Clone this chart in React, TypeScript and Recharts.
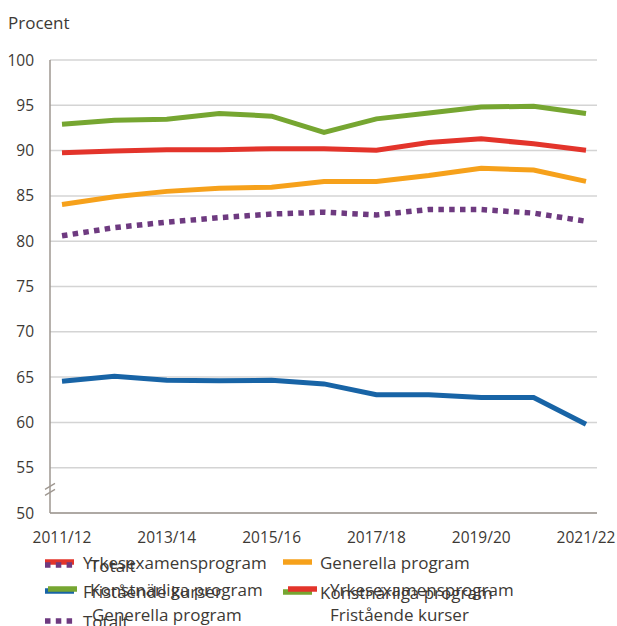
import React from 'react';
import { LineChart, Line, XAxis, YAxis, CartesianGrid, ReferenceLine } from 'recharts';

const years = ['2011/12', '2012/13', '2013/14', '2014/15', '2015/16', '2016/17', '2017/18', '2018/19', '2019/20', '2020/21', '2021/22'];
const konstnarliga = [92.9, 93.35, 93.45, 94.1, 93.8, 92.0, 93.5, 94.15, 94.8, 94.9, 94.1];
const yrkesexamen = [89.75, 89.95, 90.1, 90.1, 90.2, 90.2, 90.05, 90.9, 91.3, 90.75, 90.05];
const generella = [84.05, 84.9, 85.5, 85.85, 85.95, 86.6, 86.6, 87.25, 88.05, 87.85, 86.6];
const totalt = [80.6, 81.5, 82.1, 82.6, 83.0, 83.2, 82.9, 83.5, 83.5, 83.1, 82.2];
const fristaende = [64.55, 65.1, 64.65, 64.6, 64.65, 64.25, 63.05, 63.05, 62.75, 62.75, 59.8];
const yTicks = [50, 55, 60, 65, 70, 75, 80, 85, 90, 95, 100];

const series = [
  { key: 'konstnarliga', name: 'Konstnärliga program', color: '#76a631', values: konstnarliga, dash: undefined as string | undefined },
  { key: 'yrkesexamen', name: 'Yrkesexamensprogram', color: '#e3342b', values: yrkesexamen, dash: undefined },
  { key: 'generella', name: 'Generella program', color: '#f6a11b', values: generella, dash: undefined },
  { key: 'totalt', name: 'Totalt', color: '#6e3a80', values: totalt, dash: '5.5 5.3' },
  { key: 'fristaende', name: 'Fristående kurser', color: '#1864a6', values: fristaende, dash: undefined },
];

const data = years.map((year, i) => {
  const row: Record<string, string | number> = { year };
  series.forEach((s) => { row[s.key] = s.values[i]; });
  return row;
});

const TEXT = '#3d3935';
const AXIS = '#9e9790';
const FONT = '"Open Sans", sans-serif';

// overlapping legend layers as seen in the original
const legendA = [
  { key: 'yrkesexamen', sx: 45, tx: 83, y: 562, swatch: true },
  { key: 'generella', sx: 283, tx: 320, y: 562, swatch: true },
  { key: 'fristaende', sx: 45, tx: 83, y: 591, swatch: true },
  { key: 'konstnarliga', sx: 283, tx: 320, y: 592, swatch: true },
  { key: 'totalt', sx: 45, tx: 83, y: 621, swatch: true },
];
const legendB = [
  { key: 'totalt', sx: 45, tx: 90, y: 565, swatch: true },
  { key: 'konstnarliga', sx: 48, tx: 90, y: 589, swatch: true },
  { key: 'yrkesexamen', sx: 288, tx: 330, y: 589, swatch: true },
  { key: 'generella', sx: 48, tx: 92, y: 614, swatch: false },
  { key: 'fristaende', sx: 288, tx: 330, y: 614, swatch: false },
];

const BreakMark = (props: any) => {
  const x = props.x1 ?? 50;
  const y = props.y1 ?? 490;
  return (
    <g stroke={AXIS} strokeWidth={1.3}>
      <line x1={x - 5} y1={y - 1} x2={x + 5} y2={y - 7} />
      <line x1={x - 5} y1={y + 5} x2={x + 5} y2={y - 1} />
    </g>
  );
};

const LegendLayer = ({ items }: { items: typeof legendA }) => (
  <>
    {items.map((it, i) => {
      const s = series.find((q) => q.key === it.key)!;
      return (
        <g key={i}>
          {it.swatch && (
            <line x1={it.sx} x2={it.sx + 29} y1={it.y} y2={it.y} stroke={s.color} strokeWidth={5.5} strokeDasharray={s.dash} />
          )}
          <text x={it.tx} y={it.y} dominantBaseline="central" fill={TEXT} fontSize={17} fontFamily={FONT}>{s.name}</text>
        </g>
      );
    })}
  </>
);

export default function App() {
  return (
    <div style={{ position: 'absolute', left: 0, top: 0, width: 617, height: 626, background: '#fff', fontFamily: FONT, overflow: 'hidden' }}>
      <LineChart width={617} height={626} data={data} margin={{ top: 60, right: 20, bottom: 83, left: 8 }}>
        <CartesianGrid vertical={false} stroke="#d4d4d4" strokeWidth={1.5} />
        <XAxis
          dataKey="year"
          interval={1}
          tickLine={false}
          axisLine={{ stroke: AXIS, strokeWidth: 1.5 }}
          tick={{ fill: TEXT, fontSize: 15.5, fontFamily: FONT }}
          tickMargin={13}
          height={30}
          padding={{ left: 12, right: 11 }}
        />
        <YAxis
          domain={[50, 100]}
          ticks={yTicks}
          interval={0}
          width={42}
          tickLine={false}
          axisLine={{ stroke: AXIS, strokeWidth: 1.5 }}
          tick={{ fill: TEXT, fontSize: 15.5, fontFamily: FONT }}
          tickMargin={10}
        />
        <ReferenceLine y={52.5} stroke="none" ifOverflow="visible" shape={BreakMark} />
        {series.map((s) => (
          <Line
            key={s.key}
            type="linear"
            dataKey={s.key}
            name={s.name}
            stroke={s.color}
            strokeWidth={s.dash ? 5.5 : 5}
            strokeDasharray={s.dash}
            dot={false}
            activeDot={false}
            isAnimationActive={false}
          />
        ))}
      </LineChart>
      <svg width={617} height={626} style={{ position: 'absolute', left: 0, top: 0, pointerEvents: 'none' }}>
        <text x={8} y={22} dominantBaseline="central" fill={TEXT} fontSize={17} fontFamily={FONT}>Procent</text>
        <LegendLayer items={legendA} />
        <LegendLayer items={legendB} />
      </svg>
    </div>
  );
}
